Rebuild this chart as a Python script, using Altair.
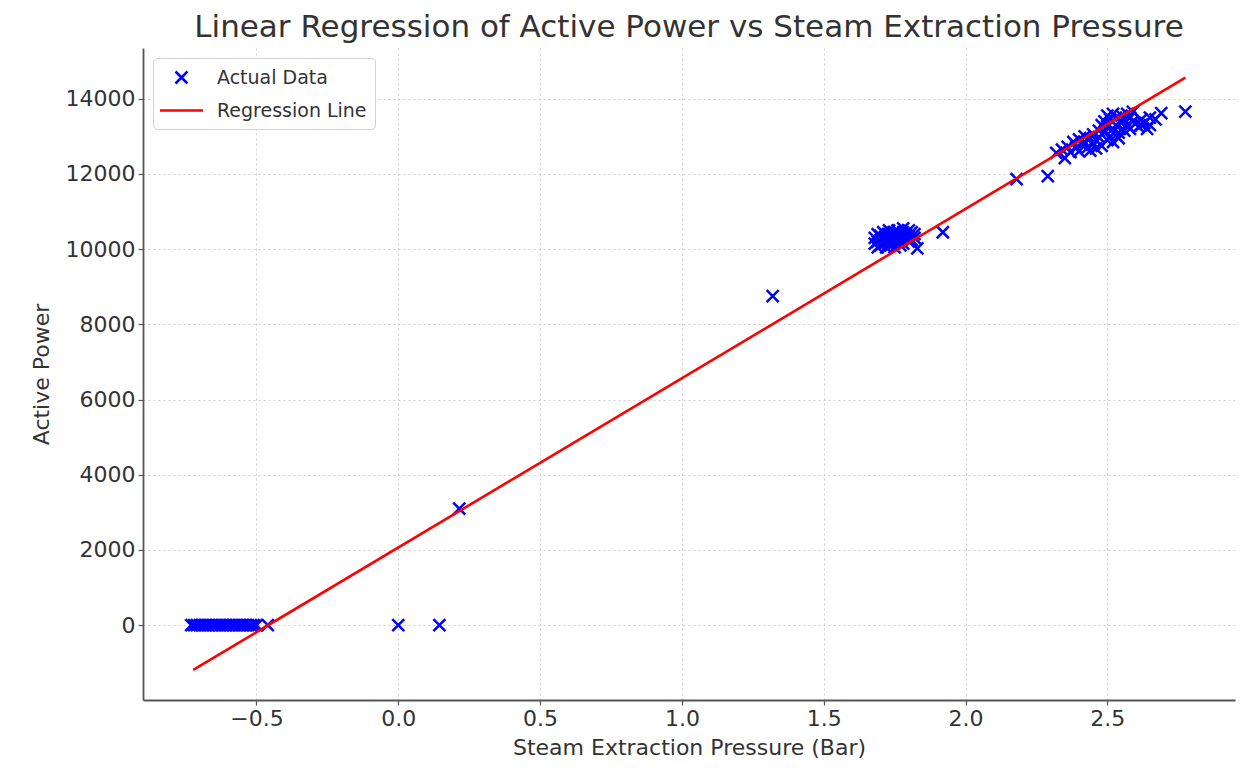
import altair as alt
import pandas as pd

# ---- data ----
zero_x = [-0.73, -0.72, -0.71, -0.70, -0.69, -0.68, -0.67, -0.66, -0.65, -0.64,
          -0.63, -0.62, -0.61, -0.60, -0.59, -0.58, -0.57, -0.56, -0.55, -0.54,
          -0.53, -0.52, -0.51, -0.50, -0.46, 0.0, 0.145]
zero_y = [0] * len(zero_x)

mid_x = [0.215, 1.32]
mid_y = [3100, 8750]

c2_x = [1.68, 1.68, 1.69, 1.69, 1.69, 1.70, 1.70, 1.70, 1.71, 1.71, 1.72, 1.72, 1.72,
        1.73, 1.73, 1.73, 1.74, 1.74, 1.74, 1.75, 1.75, 1.75, 1.76, 1.76, 1.76, 1.77,
        1.77, 1.77, 1.78, 1.78, 1.78, 1.79, 1.79, 1.80, 1.80, 1.80, 1.81, 1.81, 1.82,
        1.82, 1.83, 1.92]
c2_y = [10150, 10300, 10050, 10200, 10400, 10100, 10250, 10350, 10150, 10450, 10050,
        10300, 10200, 10400, 10100, 10500, 10250, 10350, 10150, 10450, 10050, 10300,
        10200, 10500, 10400, 10100, 10350, 10250, 10450, 10150, 10550, 10300, 10400,
        10200, 10500, 10350, 10250, 10450, 10400, 10300, 10020, 10450]

c3_x = [2.18, 2.29, 2.32, 2.34, 2.35, 2.36, 2.37, 2.38, 2.39, 2.40, 2.40, 2.41, 2.42,
        2.42, 2.43, 2.44, 2.44, 2.45, 2.45, 2.46, 2.46, 2.47, 2.47, 2.48, 2.48, 2.49,
        2.49, 2.50, 2.50, 2.50, 2.51, 2.51, 2.52, 2.52, 2.52, 2.53, 2.53, 2.54, 2.54,
        2.55, 2.55, 2.56, 2.56, 2.57, 2.57, 2.58, 2.58, 2.59, 2.59, 2.60, 2.61, 2.62,
        2.62, 2.63, 2.64, 2.65, 2.65, 2.67, 2.69, 2.775]
c3_y = [11860, 11940, 12560, 12650, 12420, 12720, 12580, 12850, 12700, 12920, 12600,
        12780, 13000, 12850, 12700, 12950, 12620, 13050, 12800, 12900, 12680, 13150,
        12980, 13300, 12750, 13400, 13100, 13550, 13250, 12900, 13450, 13000, 13600,
        13200, 12850, 13500, 13300, 13100, 12950, 13550, 13350, 13450, 13150, 13600,
        13300, 13500, 13200, 13650, 13400, 13350, 13250, 13450, 13300, 13350, 13200,
        13500, 13300, 13450, 13620, 13660]

reg_x = [-0.723, 2.775]
reg_y = [-1190, 14560]

series = ["Actual Data", "Regression Line"]
x_ticks = [-0.5, 0.0, 0.5, 1.0, 1.5, 2.0, 2.5]
y_ticks = [0, 2000, 4000, 6000, 8000, 10000, 12000, 14000]

pts = pd.DataFrame({
    "x": zero_x + mid_x + c2_x + c3_x,
    "y": zero_y + mid_y + c2_y + c3_y,
})
pts["series"] = series[0]
reg = pd.DataFrame({"x": reg_x, "y": reg_y})
reg["series"] = series[1]

FONT = "DejaVu Sans"
TXT = "#333333"
x_marker = "M-0.6,-0.6L0.6,0.6M0.6,-0.6L-0.6,0.6"
line_marker = "M-2.15,0L2.15,0"

xs = alt.Scale(domain=[-0.9, 2.95], nice=False, zero=False)
ys = alt.Scale(domain=[-1990, 15350], nice=False, zero=False)

x_axis = alt.Axis(values=x_ticks, format=".1f", title="Steam Extraction Pressure (Bar)",
                  titlePadding=8)
y_axis = alt.Axis(values=y_ticks, format="d", title="Active Power", titlePadding=12)

color = alt.Color("series:N",
                  scale=alt.Scale(domain=series, range=["#0000ff", "#ff0000"]),
                  legend=alt.Legend(title=None, orient="none", legendX=10, legendY=10))
shape = alt.Shape("series:N",
                  scale=alt.Scale(domain=series, range=[x_marker, line_marker]),
                  legend=alt.Legend(title=None, orient="none", legendX=10, legendY=10))

points = alt.Chart(pts).mark_point(filled=False, opacity=1, strokeWidth=2.5, size=400).encode(
    x=alt.X("x:Q", scale=xs, axis=x_axis),
    y=alt.Y("y:Q", scale=ys, axis=y_axis),
    color=color,
    shape=shape,
)

line = alt.Chart(reg).mark_line(strokeWidth=2.6).encode(
    x=alt.X("x:Q", scale=xs),
    y=alt.Y("y:Q", scale=ys),
    color=alt.Color("series:N", scale=alt.Scale(domain=series, range=["#0000ff", "#ff0000"])),
)

chart = alt.layer(points, line).properties(
    width=1092,
    height=652,
    autosize=alt.AutoSizeParams(type="none"),
    padding={"left": 135, "top": 40, "right": 7, "bottom": 70},
    title=alt.TitleParams(
        "Linear Regression of Active Power vs Steam Extraction Pressure",
        font=FONT, fontSize=31, fontWeight="normal", color=TXT,
        anchor="middle", offset=4,
    ),
).configure_view(stroke=None).configure_axis(
    labelFont=FONT, titleFont=FONT, labelFontSize=22, titleFontSize=22,
    labelColor=TXT, titleColor=TXT, titleFontWeight="normal",
    domainColor="#555555", domainWidth=1.8, tickColor="#555555", tickSize=5,
    tickWidth=1.2, labelPadding=3,
    grid=True, gridColor="#cfcfcf", gridDash=[2, 3], gridWidth=1,
).configure_legend(
    labelFont=FONT, labelFontSize=19, labelColor=TXT,
    strokeColor="#d0d0d0", fillColor="white", cornerRadius=4, padding=8,
    symbolSize=400, symbolStrokeWidth=2.6, symbolOffset=9, labelOffset=24,
    rowPadding=10,
)

chart.save("out.html", embed_options={"renderer": "svg", "actions": False})
